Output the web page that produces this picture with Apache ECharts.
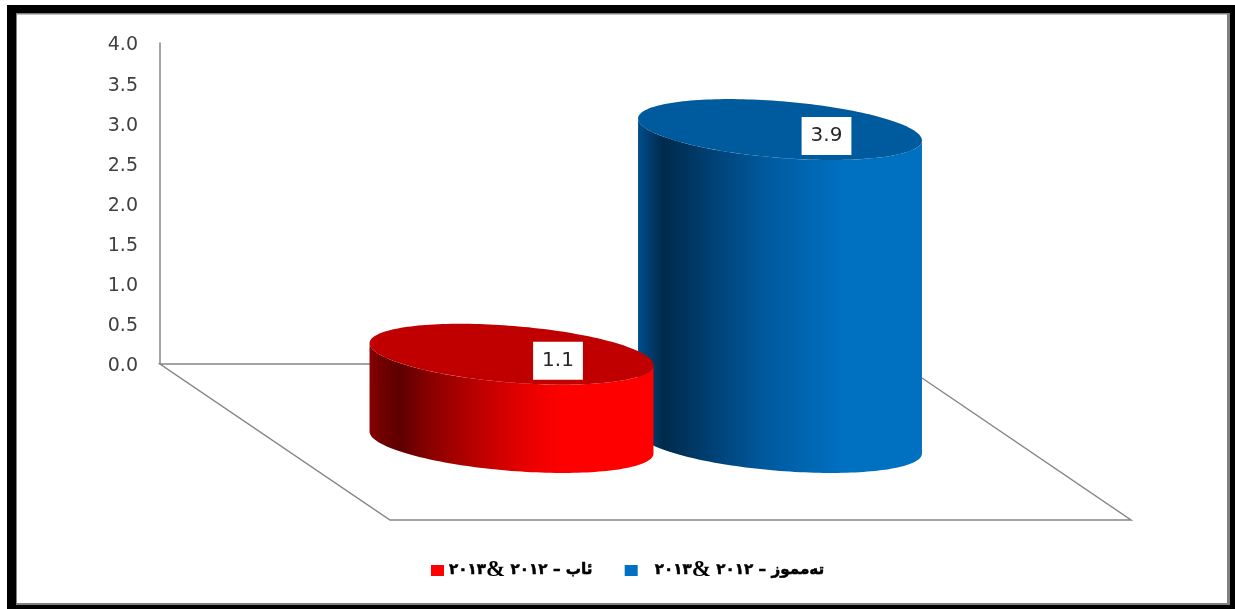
<!DOCTYPE html>
<html>
<head>
<meta charset="utf-8">
<style>html,body{margin:0;padding:0;background:#fff}#c{width:1235px;height:609px}</style>
<script src="https://cdn.jsdelivr.net/npm/echarts@6/dist/echarts.min.js"></script>
</head>
<body>
<div id="c"></div>
<script>
const categories = ['ئاب', 'تەمموز'];
const seriesNames = ['ئاب – ٢٠١٢ &٢٠١٣', 'تەمموز – ٢٠١٢ &٢٠١٣'];
const augustValues = [1.1, null];
const julyValues = [null, 3.9];
const yTicks = { min: 0, max: 4, interval: 0.5 };

const chart = echarts.init(document.getElementById('c'), null, { renderer: 'canvas' });

const AX = 142.4, BX = 28.3, PHI = 4.6 * Math.PI / 180, DROP = 78.5;
function ellipsePoint(cx, cy, t) {
  return [
    cx + AX * Math.cos(t) * Math.cos(PHI) - BX * Math.sin(t) * Math.sin(PHI),
    cy + AX * Math.cos(t) * Math.sin(PHI) + BX * Math.sin(t) * Math.cos(PHI)
  ];
}
function ellipse(cx, cy) {
  const pts = [];
  for (let i = 0; i < 180; i++) pts.push(ellipsePoint(cx, cy, i / 180 * 2 * Math.PI));
  return pts;
}
function lowerArc(cx, cy) {
  const t0 = Math.atan2(-BX * Math.sin(PHI), AX * Math.cos(PHI));
  const pts = [];
  for (let i = 0; i <= 90; i++) pts.push(ellipsePoint(cx, cy, t0 + i / 90 * Math.PI));
  return pts;
}
function hGrad(stops) {
  return { type: 'linear', x: 0, y: 0, x2: 1, y2: 0,
    colorStops: stops.map(s => ({ offset: s[0], color: s[1] })) };
}
function cylinder(sideStops, topFill) {
  return function (params, api) {
    if (api.value(1) == null || isNaN(api.value(1))) return null;
    const v = api.value(1);
    const p = api.coord([api.value(0), v]);
    const p0 = api.coord([api.value(0), 0]);
    const cx = p[0], cyTop = p[1] + DROP, cyBase = p0[1] + DROP;
    const body = lowerArc(cx, cyBase).concat(lowerArc(cx, cyTop).reverse());
    return {
      type: 'group',
      children: [
        { type: 'polygon', shape: { points: body }, style: { fill: hGrad(sideStops) } },
        { type: 'polygon', shape: { points: ellipse(cx, cyTop) }, style: { fill: topFill } },
        { type: 'text', x: cx + 46.5, y: cyTop + 6.5,
          style: { text: v.toFixed(1), fill: '#262626', font: '20px "DejaVu Sans"',
            align: 'center', verticalAlign: 'middle',
            backgroundColor: '#fff', padding: [9, 9, 9, 9] } }
      ]
    };
  };
}
const redSide = [[0, '#8a0000'], [0.04, '#700000'], [0.11, '#5e0000'], [0.22, '#8c0000'],
  [0.40, '#c00000'], [0.55, '#e80000'], [0.68, '#ff0000'], [1, '#ff0000']];
const blueSide = [[0, '#004f8c'], [0.04, '#003d6e'], [0.09, '#002a4a'], [0.25, '#003f72'],
  [0.45, '#005a9e'], [0.62, '#0068b4'], [0.72, '#0070c0'], [1, '#0070c0']];

const option = {
  animation: false,
  backgroundColor: '#fff',
  graphic: [
    { type: 'rect', z: -10, silent: true, shape: { x: 7, y: 5, width: 1228, height: 604 }, style: { fill: '#000' } },
    { type: 'rect', z: -9, silent: true, shape: { x: 16, y: 13, width: 1214, height: 592 }, style: { fill: '#808080' } },
    { type: 'rect', z: -8, silent: true, shape: { x: 17, y: 14.5, width: 1210, height: 588.5 }, style: { fill: '#fff' } },
    { type: 'polyline', z: -5, silent: true,
      shape: { points: [[370, 364], [160, 364], [390, 520], [1131, 520], [922, 378]] },
      style: { fill: 'none', stroke: '#868686', lineWidth: 1.5 } }
  ],
  grid: { left: 377.25, top: 43, width: 537, height: 321, containLabel: false },
  xAxis: { type: 'category', data: categories, show: false },
  yAxis: {
    type: 'value', min: yTicks.min, max: yTicks.max, interval: yTicks.interval,
    offset: 217.25,
    axisLine: { show: true, lineStyle: { color: '#868686', width: 1.5 } },
    axisTick: { show: false },
    splitLine: { show: false },
    axisLabel: { margin: 22, formatter: v => '{v|' + v.toFixed(1) + '}',
      rich: { v: { color: '#404040', fontSize: 19, fontFamily: '"DejaVu Sans"', padding: [5, 0, 0, 0] } } }
  },
  legend: {
    data: [seriesNames[0], seriesNames[1]],
    left: 431, top: 559, padding: 0, icon: 'rect',
    itemWidth: 13, itemHeight: 11, itemGap: 32,
    formatter: function (name) {
      const i = name.indexOf('&');
      const lead = name === seriesNames[1] ? '{s|}' : '';
      return lead + '{d|' + name.slice(i + 1) + '}{a|&}{d| ' + name.slice(0, i).trim() + '}';
    },
    textStyle: {
      color: '#000',
      rich: {
        s: { width: 12 },
        d: { fontFamily: '"DejaVu Sans"', fontWeight: 'bold', fontSize: 15.2, color: '#000',
          textBorderColor: '#000', textBorderWidth: 0.5 },
        a: { fontFamily: '"Liberation Serif"', fontWeight: 'bold', fontSize: 23, color: '#000' }
      }
    }
  },
  series: [
    { name: seriesNames[1], type: 'custom', z: 2, itemStyle: { color: '#0070c0' },
      renderItem: cylinder(blueSide, '#005a9e'),
      encode: { x: 0, y: 1 },
      data: julyValues.map((v, i) => [i, v]).filter(d => d[1] != null) },
    { name: seriesNames[0], type: 'custom', z: 3, itemStyle: { color: '#ff0000' },
      renderItem: cylinder(redSide, '#c00000'),
      encode: { x: 0, y: 1 },
      data: augustValues.map((v, i) => [i, v]).filter(d => d[1] != null) }
  ]
};
chart.setOption(option);
</script>
</body>
</html>
